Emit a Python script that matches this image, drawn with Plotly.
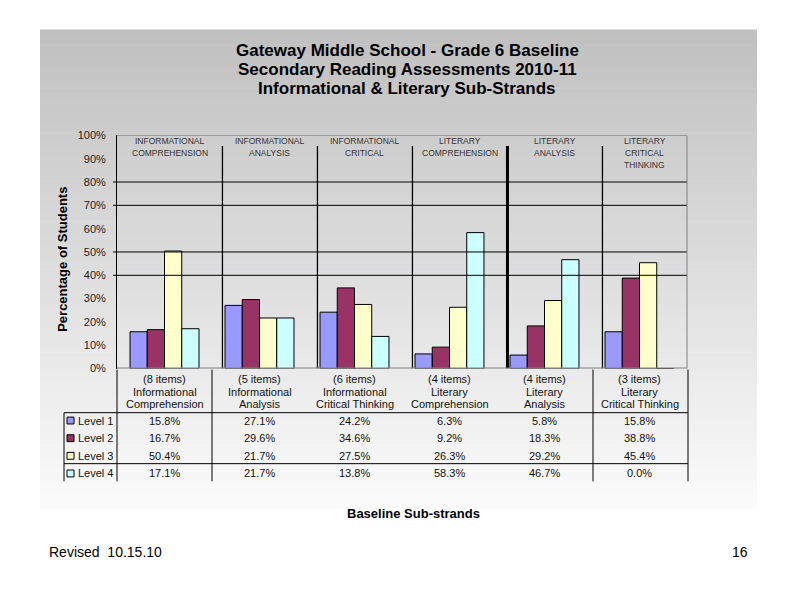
import plotly.graph_objects as go

# ---------------- data ----------------
categories = ["Informational Comprehension", "Informational Analysis",
              "Informational Critical Thinking", "Literary Comprehension",
              "Literary Analysis", "Literary Critical Thinking"]
header_items = ["(8 items)", "(5 items)", "(6 items)", "(4 items)", "(4 items)", "(3 items)"]
header_strand = ["Informational", "Informational", "Informational", "Literary", "Literary", "Literary"]
header_sub = ["Comprehension", "Analysis", "Critical Thinking", "Comprehension", "Analysis", "Critical Thinking"]
top_labels = [["INFORMATIONAL", "COMPREHENSION"], ["INFORMATIONAL", "ANALYSIS"],
              ["INFORMATIONAL", "CRITICAL"], ["LITERARY", "COMPREHENSION"],
              ["LITERARY", "ANALYSIS"], ["LITERARY", "CRITICAL", "THINKING"]]
levels = ["Level 1", "Level 2", "Level 3", "Level 4"]
level1 = [15.8, 27.1, 24.2, 6.3, 5.8, 15.8]
level2 = [16.7, 29.6, 34.6, 9.2, 18.3, 38.8]
level3 = [50.4, 21.7, 27.5, 26.3, 29.2, 45.4]
level4 = [17.1, 21.7, 13.8, 58.3, 46.7, 0.0]
series = [level1, level2, level3, level4]
colors = ["#9999FF", "#993366", "#FFFFCC", "#CCFFFF"]
y_ticks = [0, 10, 20, 30, 40, 50, 60, 70, 80, 90, 100]
grid_levels = [40, 50, 70, 80]

title_lines = ["Gateway Middle School - Grade 6 Baseline",
               "Secondary Reading Assessments 2010-11",
               "Informational & Literary Sub-Strands"]

FONT = "Liberation Sans, Arial, sans-serif"
W, H = 800, 600


def px(x):
    return x / W


def py(y):
    return 1 - y / H


x_idx = list(range(len(categories)))

fig = go.Figure()
for name, vals, col in zip(levels, series, colors):
    fig.add_trace(go.Bar(x=x_idx, y=vals, name=name, marker_color=col,
                         marker_line_color="black", marker_line_width=1,
                         showlegend=False, hoverinfo="y"))

shapes = []
# gradient background box
x0b, x1b, y0b, y1b = 40, 757, 24, 513
n = 98
for i in range(n):
    t = i / (n - 1)
    g = int(round(192 + (251 - 192) * t))
    ya = y0b + (y1b - y0b) * i / n
    yb = y0b + (y1b - y0b) * (i + 1) / n + 0.6
    shapes.append(dict(type="rect", xref="paper", yref="paper",
                       x0=px(x0b), x1=px(x1b), y0=py(min(yb, y1b)), y1=py(ya),
                       fillcolor=f"rgb({g},{g},{g})", line_width=0, layer="below"))

# gridlines (with outside tick stubs)
for g in grid_levels:
    shapes.append(dict(type="line", xref="paper", yref="y", x0=px(113), x1=px(687),
                       y0=g, y1=g, line=dict(color="black", width=1)))
# plot area top/right border
shapes.append(dict(type="line", xref="paper", yref="y", x0=px(117), x1=px(687),
                   y0=100, y1=100, line=dict(color="#808080", width=1)))
shapes.append(dict(type="line", xref="paper", yref="y", x0=px(687), x1=px(687),
                   y0=0, y1=100, line=dict(color="#808080", width=1)))
# separators
sep_off = 0.61
seps = [i + sep_off for i in range(len(categories) - 1)]
for i, s in enumerate(seps):
    shapes.append(dict(type="line", xref="x", yref="y", x0=s, x1=s, y0=0, y1=95.4,
                       line=dict(color="black", width=3 if i == 3 else 1.3)))
# base line
shapes.append(dict(type="line", xref="paper", yref="y", x0=px(117), x1=px(687),
                   y0=0, y1=0, line=dict(color="#808080", width=2)))
# table lines
for yy in [415, 467]:
    shapes.append(dict(type="line", xref="paper", yref="paper", x0=px(64), x1=px(688),
                       y0=py(yy), y1=py(yy), line=dict(color="black", width=1)))
shapes.append(dict(type="line", xref="paper", yref="paper", x0=px(64), x1=px(64),
                   y0=py(415), y1=py(485), line=dict(color="black", width=1)))
for xx in [117, 212, 593, 688]:
    shapes.append(dict(type="line", xref="paper", yref="paper", x0=px(xx), x1=px(xx),
                       y0=py(371), y1=py(485), line=dict(color="black", width=1)))

annotations = []
# title
for i, line in enumerate(title_lines):
    annotations.append(dict(text=f"<b>{line}</b>", xref="paper", yref="paper",
                            x=px(407), y=py(45 + 19.5 * i), showarrow=False,
                            xanchor="center", yanchor="middle",
                            font=dict(family=FONT, size=17, color="black")))
# y-axis title
annotations.append(dict(text="<b>Percentage of Students</b>", xref="paper", yref="paper",
                        x=px(63), y=py(259), textangle=-90, showarrow=False,
                        xanchor="center", yanchor="middle",
                        font=dict(family=FONT, size=13, color="black")))
# top labels inside plot
bounds = [-0.5] + seps + [5.5]
for i, lines in enumerate(top_labels):
    xc = (bounds[i] + bounds[i + 1]) / 2
    for j, t in enumerate(lines):
        annotations.append(dict(text=t, xref="x", yref="paper", x=xc, y=py(138 + 12 * j),
                                showarrow=False, xanchor="center", yanchor="middle",
                                font=dict(family=FONT, size=8.5, color="#333333")))
# table header
for i in x_idx:
    for j, t in enumerate([header_items[i], header_strand[i], header_sub[i]]):
        annotations.append(dict(text=t, xref="x", yref="paper", x=i, y=py(381 + 12.5 * j),
                                showarrow=False, xanchor="center", yanchor="middle",
                                font=dict(family=FONT, size=11, color="#111111")))
# table rows
row_y = [423, 441, 459, 477]
for r, (name, vals, col) in enumerate(zip(levels, series, colors)):
    yy = row_y[r]
    shapes.append(dict(type="rect", xref="paper", yref="paper",
                       x0=px(67), x1=px(74), y0=py(yy + 3.5), y1=py(yy - 3.5),
                       fillcolor=col, line=dict(color="black", width=1)))
    annotations.append(dict(text=name, xref="paper", yref="paper", x=px(76), y=py(yy),
                            showarrow=False, xanchor="left", yanchor="middle",
                            font=dict(family=FONT, size=11, color="#111111")))
    for i, v in enumerate(vals):
        annotations.append(dict(text=f"{v:.1f}%", xref="x", yref="paper", x=i, y=py(yy),
                                showarrow=False, xanchor="center", yanchor="middle",
                                font=dict(family=FONT, size=11, color="#111111")))
# x-axis title and footer
annotations.append(dict(text="<b>Baseline Sub-strands</b>", xref="paper", yref="paper",
                        x=px(413), y=py(518), showarrow=False, xanchor="center",
                        yanchor="middle", font=dict(family=FONT, size=13, color="black")))
annotations.append(dict(text="Revised  10.15.10", xref="paper", yref="paper",
                        x=px(47), y=py(557), showarrow=False, xanchor="left",
                        yanchor="middle", font=dict(family=FONT, size=14, color="black")))
annotations.append(dict(text="16", xref="paper", yref="paper",
                        x=px(750), y=py(557), showarrow=False, xanchor="right",
                        yanchor="middle", font=dict(family=FONT, size=14, color="black")))

fig.update_layout(
    width=W, height=H, autosize=False,
    margin=dict(l=0, r=0, t=0, b=0, pad=0),
    paper_bgcolor="white", plot_bgcolor="#CCCCFF",
    barmode="group", bargap=0.274, bargroupgap=0,
    font=dict(family=FONT, size=11, color="#222222"),
    shapes=shapes, annotations=annotations,
    xaxis=dict(domain=[px(117), px(687)], range=[-0.5, 5.5], showticklabels=False,
               showgrid=False, zeroline=False, showline=False, ticks="", fixedrange=True),
    yaxis=dict(domain=[py(370), py(132)], range=[0, 100], tickvals=y_ticks,
               ticktext=[f"{v}%" for v in y_ticks], showgrid=False, zeroline=False,
               showline=True, linecolor="black", linewidth=1, ticks="",
               ticklabelstandoff=8, tickfont=dict(family=FONT, size=11, color="#222222"),
               fixedrange=True),
)

fig.write_html("out.html", config={"displayModeBar": False},
               post_script="document.body.style.margin='0';document.body.style.overflow='hidden';")
